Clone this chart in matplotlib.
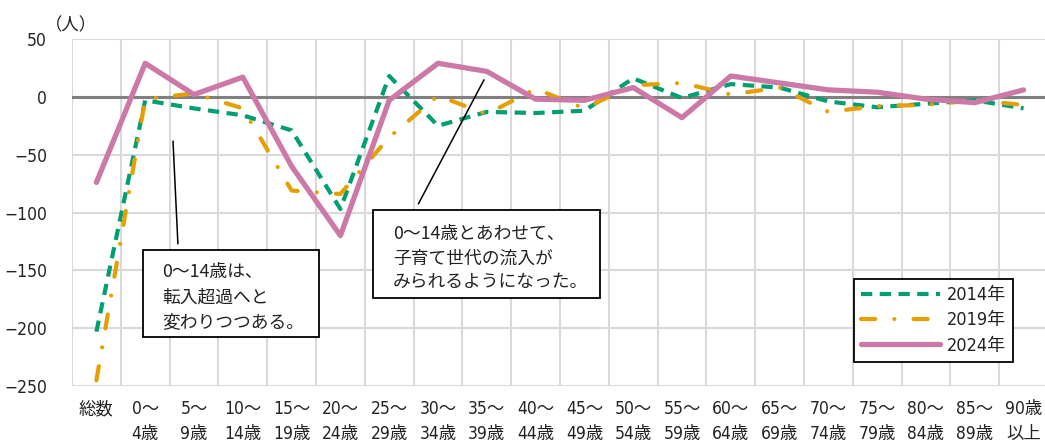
import matplotlib
matplotlib.use("Agg")
import matplotlib.pyplot as plt
from matplotlib.patches import Rectangle
import numpy as np

categories = ["総数", "0～\n4歳", "5～\n9歳", "10～\n14歳", "15～\n19歳", "20～\n24歳",
              "25～\n29歳", "30～\n34歳", "35～\n39歳", "40～\n44歳", "45～\n49歳",
              "50～\n54歳", "55～\n59歳", "60～\n64歳", "65～\n69歳", "70～\n74歳",
              "75～\n79歳", "80～\n84歳", "85～\n89歳", "90歳\n以上"]
y2014 = [-203, -3, -10, -16, -29, -97, 18, -25, -13, -14, -12, 16, -1, 11, 8, -4, -9, -6, -3, -10]
y2019 = [-245, -2, 3, -10, -81, -84, -35, 1, -15, 7, -10, 10, 12, 2, 8, -13, -8, -7, -3, -7]
y2024 = [-74, 29, 2, 17, -60, -120, -3, 29, 22, -2, -3, 8, -18, 18, 12, 6, 4, -2, -5, 6]
series_labels = ["2014年", "2019年", "2024年"]
yticks = [50, 0, -50, -100, -150, -200, -250]
note1 = ["0～14歳は、", "転入超過へと", "変わりつつある。"]
note2 = ["0～14歳とあわせて、", "子育て世代の流入が", "みられるようになった。"]

W, H = 1045, 443
fig = plt.figure(figsize=(W / 100, H / 100), dpi=100)
ax = fig.add_axes([72 / W, (H - 386) / H, 976 / W, 347 / H])

num_font = ["DejaVu Sans", "Noto Sans CJK JP"]
jp_font = ["Noto Sans CJK JP", "DejaVu Sans"]
txt_color = "#222222"

x = np.arange(len(categories))
green = "#009E73"
orange = "#E69F00"
pink = "#CC79A7"

ax.axhline(0, color="#808080", lw=2.2, zorder=2)
ax.plot(x, y2014, color=green, lw=3.0, linestyle=(0, (2.7, 1.8)), dash_capstyle="butt",
        label=series_labels[0], zorder=3)
ax.plot(x, y2019, color=orange, lw=3.0, linestyle=(0, (3.4, 4.6, 0.01, 4.6)),
        dash_capstyle="round", label=series_labels[1], zorder=4)
ax.plot(x, y2024, color=pink, lw=3.8, solid_capstyle="round", label=series_labels[2], zorder=5)

ax.set_xlim(-0.5, len(categories) - 0.5)
ax.set_ylim(-250, 50)
ax.set_yticks(yticks)
ax.set_xticks(x)
ax.set_xticklabels(categories, family=num_font, stretch="condensed", fontsize=12.5,
                   color=txt_color, linespacing=1.5)
ax.set_xticks(np.arange(-0.5, len(categories), 1.0), minor=True)
for lab in ax.get_yticklabels():
    lab.set_family(num_font)
    lab.set_stretch("condensed")
    lab.set_fontsize(12.5)
    lab.set_color(txt_color)
ax.tick_params(axis="y", length=0, pad=18)
ax.tick_params(axis="x", which="major", length=0, pad=10)
ax.tick_params(axis="x", which="minor", length=0)
ax.grid(True, axis="y", which="major", color="#d9d9d9", lw=1.5, zorder=0)
ax.grid(True, axis="x", which="minor", color="#d9d9d9", lw=1.5, zorder=0)
ax.grid(False, axis="x", which="major")
for s in ax.spines.values():
    s.set_visible(False)
ax.axvline(-0.5, color="#d9d9d9", lw=1.5, zorder=0)

fig.text(45 / W, 1 - 25 / H, "（人）", family=jp_font, fontsize=12.5, color=txt_color,
         ha="left", va="center")

# annotation 1
ax.add_patch(Rectangle((0.95, -208), 4.56 - 0.95, -132.2 + 208, fill=True, fc="white",
                       ec="black", lw=1.3, zorder=6))
for i, t in enumerate(note1):
    ax.text(1.34, [-151.7, -173.3, -195.0][i], t, family=jp_font, fontsize=12.8,
            color=txt_color, ha="left", va="center", zorder=7)
ax.plot([1.57, 1.67], [-38.5, -126.9], color="black", lw=1.1, zorder=6)

# annotation 2
ax.add_patch(Rectangle((5.67, -174.2), 10.32 - 5.67, -98.2 + 174.2, fill=True, fc="white",
                       ec="black", lw=1.3, zorder=6))
for i, t in enumerate(note2):
    ax.text(6.08, [-118.4, -140.0, -160.3][i], t, family=jp_font, fontsize=12.8,
            color=txt_color, ha="left", va="center", zorder=7)
ax.plot([7.94, 6.6], [14.5, -92.4], color="black", lw=1.1, zorder=6)

leg = ax.legend(loc="upper right", bbox_to_anchor=(1022 / W, 1 - 270 / H),
                bbox_transform=fig.transFigure, frameon=True, fancybox=False,
                edgecolor="black", framealpha=1, borderpad=0.4, handlelength=4.4,
                handletextpad=0.35, labelspacing=0.4,
                prop={"family": num_font, "stretch": "condensed", "size": 13})
leg.get_frame().set_linewidth(1.3)
for t in leg.get_texts():
    t.set_color(txt_color)
leg.set_zorder(8)

fig.savefig("out.png", dpi=100)
